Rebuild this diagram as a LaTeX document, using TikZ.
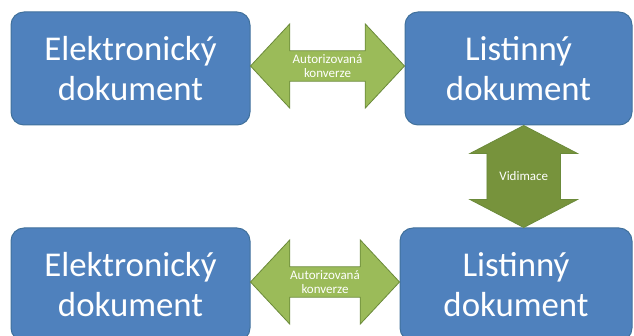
\documentclass[tikz,border=0pt]{standalone}
\usepackage{fontspec}
\setmainfont{Carlito}
\usetikzlibrary{shapes.arrows,calc}

\definecolor{boxblue}{HTML}{4F81BD}
\definecolor{boxline}{HTML}{41719C}
\definecolor{lightgreen}{HTML}{9BBB59}
\definecolor{darkgreen}{HTML}{77933C}
\definecolor{greenline}{HTML}{6B8A3A}

\tikzset{
  docbox/.style={draw=boxline, line width=1pt, fill=boxblue, rounded corners=13pt,
    minimum height=113pt, align=center, text=white,
    font=\fontsize{34.8}{40}\selectfont},
  harrow/.style={shape=double arrow, draw=greenline, line width=0.8pt, fill=lightgreen,
    double arrow tip angle=94, double arrow head extend=27pt,
    inner xsep=0pt, inner ysep=3.5pt, align=center, text=white,
    font=\fontsize{13}{13.5}\selectfont},
  varrow/.style={shape=double arrow, shape border rotate=90, draw=greenline, line width=0.8pt,
    fill=darkgreen, double arrow tip angle=125, double arrow head extend=17pt,
    inner xsep=12pt, inner ysep=2pt, text=white, font=\fontsize{13}{14}\selectfont}
}

\begin{document}
\begin{tikzpicture}[x=1pt, y=-1pt]
\useasboundingbox (0,0) rectangle (634,336);
\clip (0,0) rectangle (634,336);

% Top row
\node[docbox, minimum width=239pt] (el1) at (130.5, 68.5) {Elektronický\\dokument};
\node[docbox, minimum width=227pt] (li1) at (518.5, 68.5) {Listinný\\dokument};

% Bottom row
\node[docbox, minimum width=239pt] (el2) at (130.5, 284.5) {Elektronický\\dokument};
\node[docbox, minimum width=232pt] (li2) at (516, 284.5) {Listinný\\dokument};

% Conversion arrows
\node[harrow, minimum height=154pt] (konv1) at ($(el1.east)!0.5!(li1.west)+(0,-2.5)$) {Autorizovaná\\konverze};
\node[harrow, minimum height=149pt] (konv2) at ($(el2.east)!0.5!(li2.west)+(0,-2.5)$) {Autorizovaná\\konverze};

% Vidimation arrow
\node[varrow, minimum height=102pt] (vid) at ($(li1.south)!0.5!(li2.north)+(6.5,0)$) {Vidimace};

\end{tikzpicture}
\end{document}
